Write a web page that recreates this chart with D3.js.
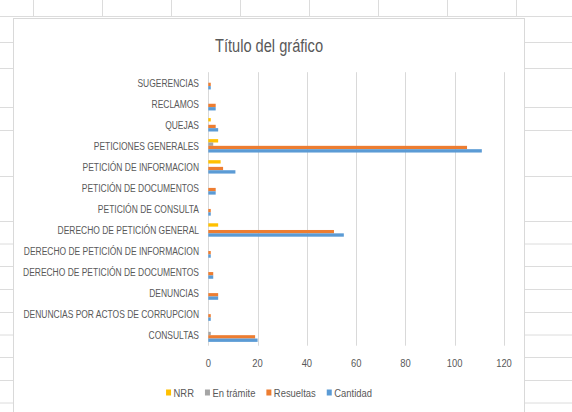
<!DOCTYPE html>
<html><head><meta charset="utf-8">
<script src="https://cdn.jsdelivr.net/npm/d3@7"></script>
<style>html,body{margin:0;padding:0;background:#fff;overflow:hidden}svg{display:block}</style>
</head><body>
<script>
const categories = ["SUGERENCIAS","RECLAMOS","QUEJAS","PETICIONES GENERALES","PETICIÓN DE INFORMACION","PETICIÓN DE DOCUMENTOS","PETICIÓN DE CONSULTA","DERECHO DE PETICIÓN GENERAL","DERECHO DE PETICIÓN DE INFORMACION","DERECHO DE PETICIÓN DE DOCUMENTOS","DENUNCIAS","DENUNCIAS POR ACTOS DE CORRUPCION","CONSULTAS"];
const seriesNames = ["NRR","En trámite","Resueltas","Cantidad"];
const nrr        = [0,0,1,4,5,0,0,4,0,0,0,0,0];
const enTramite  = [0,0,0,2,0,0,0,0,0,0,0,0,1];
const resueltas  = [1,3,3,105,6,3,1,51,1,2,4,1,19];
const cantidad   = [1,3,4,111,11,3,1,55,1,2,4,1,20];
const tickValues = [0,20,40,60,80,100,120];
const title = "Título del gráfico";
const colors = ["#FFC000","#A5A5A5","#ED7D31","#5B9BD5"];

const W = 572, H = 412;
const FONT = "'Liberation Sans', Arial, sans-serif";
const TXT = "#595959";
const svg = d3.select("body").append("svg").attr("width", W).attr("height", H);

// spreadsheet background
const sheet = svg.append("g").attr("stroke", "#DCDCDC").attr("stroke-width", 1);
d3.range(8).forEach(i => {
  const x = 33.5 + i * 69;
  sheet.append("line").attr("x1", x).attr("x2", x).attr("y1", 0).attr("y2", 17);
});
sheet.append("line").attr("x1", 0).attr("x2", W).attr("y1", 16.5).attr("y2", 16.5);
[42, 68, 107, 130, 176, 221, 243.5, 266, 289, 312, 334.5, 357, 380, 402.5].forEach(y => {
  sheet.append("line").attr("x1", 0).attr("x2", 13).attr("y1", y + .5).attr("y2", y + .5);
  sheet.append("line").attr("x1", 525).attr("x2", W).attr("y1", y + .5).attr("y2", y + .5);
});

// chart box
svg.append("rect").attr("x", 13.5).attr("y", 18.5).attr("width", 511).attr("height", 420)
  .attr("fill", "#fff").attr("stroke", "#D9D9D9");

// title
svg.append("text").attr("transform", "translate(269,52) scale(0.77,1)")
  .attr("text-anchor", "middle").attr("font-family", FONT).attr("font-size", 19)
  .attr("fill", TXT).text(title);

const x = d3.scaleLinear().domain([0, 120]).range([208.3, 504]);
const y = d3.scaleBand().domain(categories).range([72.2, 345.7]);
const inner = d3.scaleBand().domain(seriesNames).range([0, y.bandwidth()]).paddingOuter(1.14);

// gridlines
svg.append("g").selectAll("line").data(tickValues).join("line")
  .attr("x1", d => Math.round(x(d)) + .5).attr("x2", d => Math.round(x(d)) + .5)
  .attr("y1", y.range()[0]).attr("y2", y.range()[1])
  .attr("stroke", "#D9D9D9").attr("stroke-width", 1);

// x tick labels
svg.append("g").selectAll("text").data(tickValues).join("text")
  .attr("transform", d => `translate(${x(d)},363) scale(0.82,1)`)
  .attr("text-anchor", "middle").attr("dy", "0.35em")
  .attr("font-family", FONT).attr("font-size", 11.5).attr("fill", TXT).text(d => d);

// category labels
svg.append("g").selectAll("text").data(categories).join("text")
  .attr("transform", d => `translate(199,${y(d) + y.bandwidth() / 2}) scale(0.77,1)`)
  .attr("text-anchor", "end").attr("dy", "0.36em")
  .attr("font-family", FONT).attr("font-size", 11).attr("fill", TXT).text(d => d);

// bars
const seriesData = [nrr, enTramite, resueltas, cantidad];
seriesData.forEach((vals, si) => {
  svg.append("g").selectAll("rect").data(vals).join("rect")
    .attr("x", x(0))
    .attr("y", (d, i) => y(categories[i]) + inner(seriesNames[si]))
    .attr("width", d => x(d) - x(0))
    .attr("height", inner.bandwidth())
    .attr("fill", colors[si]);
});

// legend
const lg = svg.append("g");
const sx = 0.82, fs = 11.5;
let cx = 0;
const items = [];
seriesNames.forEach((s, i) => {
  const g = lg.append("g");
  g.append("rect").attr("x", cx).attr("y", -3).attr("width", 5).attr("height", 6).attr("fill", colors[i]);
  const t = g.append("text").attr("transform", `translate(${cx + 7.5},0) scale(${sx},1)`)
    .attr("dy", "0.35em").attr("font-family", FONT).attr("font-size", fs).attr("fill", TXT).text(s);
  const w = t.node().getComputedTextLength() * sx;
  cx += 7.5 + w + 11;
});
const total = cx - 11;
lg.attr("transform", `translate(${269 - total / 2},392.5)`);
</script>
</body></html>
